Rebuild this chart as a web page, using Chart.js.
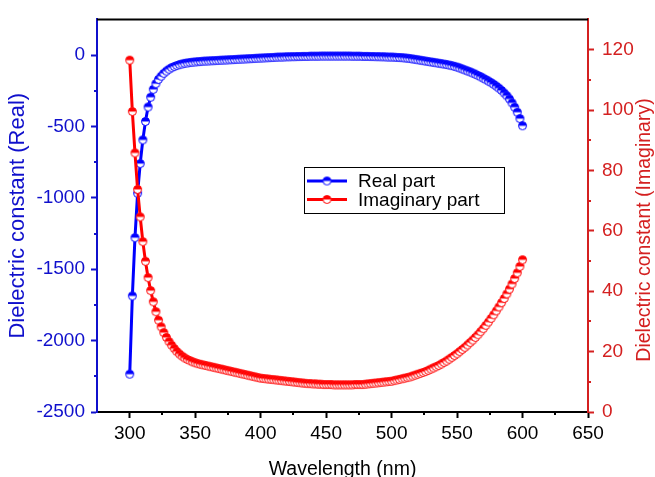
<!DOCTYPE html>
<html>
<head>
<meta charset="utf-8">
<script src="https://cdn.jsdelivr.net/npm/chart.js@4.4.0/dist/chart.umd.min.js"></script>
<style>
  html, body { margin: 0; padding: 0; background: #fff; }
  #chart { display: block; }
</style>
</head>
<body>
<canvas id="chart" width="655" height="477"></canvas>
<script>
// wavelength in nm
const wavelengths = [
  300, 302, 304, 306, 308, 310, 312, 314, 316, 318,
  320, 322, 324, 326, 328, 330, 332, 334, 336, 338,
  340, 342, 344, 346, 348, 350, 352, 354, 356, 358,
  360, 362, 364, 366, 368, 370, 372, 374, 376, 378,
  380, 382, 384, 386, 388, 390, 392, 394, 396, 398,
  400, 402, 404, 406, 408, 410, 412, 414, 416, 418,
  420, 422, 424, 426, 428, 430, 432, 434, 436, 438,
  440, 442, 444, 446, 448, 450, 452, 454, 456, 458,
  460, 462, 464, 466, 468, 470, 472, 474, 476, 478,
  480, 482, 484, 486, 488, 490, 492, 494, 496, 498,
  500, 502, 504, 506, 508, 510, 512, 514, 516, 518,
  520, 522, 524, 526, 528, 530, 532, 534, 536, 538,
  540, 542, 544, 546, 548, 550, 552, 554, 556, 558,
  560, 562, 564, 566, 568, 570, 572, 574, 576, 578,
  580, 582, 584, 586, 588, 590, 592, 594, 596, 598,
  600
];

const realPart = [
  -2235, -1687, -1279, -968, -760, -594, -465, -364, -295, -240,
  -200, -170, -148, -128, -112, -99, -88, -80, -73, -67,
  -62, -58, -55, -52, -50, -48, -46, -45, -43, -42,
  -41, -40, -39, -38, -37, -36, -35, -34, -33, -32,
  -31, -30, -29, -28, -27, -26, -25, -24, -23, -22,
  -21, -20, -19, -18, -17, -16, -15, -14, -14, -13,
  -12, -12, -11, -11, -10, -10, -9, -9, -9, -8,
  -8, -8, -8, -7, -7, -7, -7, -7, -7, -7,
  -7, -7, -7, -7, -7, -8, -8, -8, -8, -9,
  -9, -9, -10, -10, -11, -11, -12, -12, -13, -14,
  -14, -15, -16, -17, -18, -20, -22, -24, -27, -30,
  -33, -36, -39, -42, -45, -48, -51, -54, -57, -60,
  -63, -66, -70, -74, -79, -84, -90, -97, -104, -111,
  -118, -126, -134, -143, -152, -162, -172, -182, -193, -205,
  -218, -232, -248, -266, -285, -308, -335, -365, -400, -445,
  -495
];

const imagPart = [
  116.5, 99.5, 85.8, 73.7, 64.6, 56.4, 49.9, 44.5, 40.2, 36.5,
  33.2, 30.4, 28.2, 26.3, 24.7, 23.3, 22.1, 21.0, 20.0, 19.2,
  18.5, 17.9, 17.4, 17.0, 16.6, 16.3, 16.0, 15.8, 15.6, 15.4,
  15.2, 15.0, 14.8, 14.6, 14.4, 14.2, 14.0, 13.8, 13.6, 13.4,
  13.2, 13.0, 12.8, 12.6, 12.4, 12.2, 12.0, 11.8, 11.6, 11.4,
  11.2, 11.1, 11.0, 10.9, 10.8, 10.7, 10.6, 10.5, 10.4, 10.3,
  10.2, 10.1, 10.0, 9.9, 9.8, 9.7, 9.6, 9.5, 9.4, 9.4,
  9.3, 9.3, 9.2, 9.2, 9.1, 9.1, 9.1, 9.1, 9.0, 9.0,
  9.0, 9.0, 9.0, 9.0, 9.0, 9.0, 9.1, 9.1, 9.1, 9.1,
  9.2, 9.3, 9.4, 9.5, 9.6, 9.7, 9.8, 9.9, 10.0, 10.1,
  10.2, 10.4, 10.6, 10.8, 11.0, 11.2, 11.4, 11.6, 11.9, 12.2,
  12.5, 12.8, 13.1, 13.4, 13.8, 14.2, 14.6, 15.0, 15.4, 15.9,
  16.4, 16.9, 17.5, 18.1, 18.7, 19.3, 20.0, 20.7, 21.4, 22.2,
  23.0, 23.8, 24.7, 25.6, 26.6, 27.6, 28.7, 29.8, 31.0, 32.2,
  33.5, 34.8, 36.2, 37.6, 39.1, 40.7, 42.4, 44.2, 46.1, 48.2,
  50.4
];

const xTicks = [300, 350, 400, 450, 500, 550, 600, 650];
const realTicks = [-2500, -2000, -1500, -1000, -500, 0];
const imagTicks = [0, 20, 40, 60, 80, 100, 120];
const seriesLabels = ['Real part', 'Imaginary part'];
const xTitle = 'Wavelength (nm)';
const realTitle = 'Dielectric constant (Real)';
const imagTitle = 'Dielectric constant (Imaginary)';

const FONT = '"Liberation Sans", Arial, Helvetica, sans-serif';
const BLUE = '#0000ff';
const RED = '#ff0000';
const BLUE_AXIS = '#1010cc';
const RED_AXIS = '#d42020';

// half filled circle, like Origin's "half up" symbol
function halfMarker(color) {
    const c = document.createElement('canvas');
    c.width = 11;
    c.height = 11;
    const g = c.getContext('2d');
    g.beginPath();
    g.arc(5.5, 5.5, 4, 0, Math.PI * 2);
    g.fillStyle = '#fff';
    g.fill();
    g.beginPath();
    g.arc(5.5, 5.5, 4, Math.PI, 0);
    g.closePath();
    g.fillStyle = color;
    g.fill();
    g.beginPath();
    g.arc(5.5, 5.5, 4, 0, Math.PI * 2);
    g.lineWidth = 1;
    g.strokeStyle = color;
    g.stroke();
    return c;
}

const plainNumber = v => String(v);

const minorSteps = { x: 25, y: 250, y1: 10 };

const minorTicks = {
    id: 'minorTicks',
    afterDraw(chart) {
        const ctx = chart.ctx;
        const area = chart.chartArea;
        ctx.save();
        ctx.lineWidth = 2;
        Object.keys(minorSteps).forEach(id => {
            const s = chart.scales[id];
            const step = minorSteps[id];
            const majors = s.ticks.map(t => t.value);
            ctx.strokeStyle = id === 'y' ? BLUE_AXIS : id === 'y1' ? RED_AXIS : '#000';
            for (let v = Math.ceil(s.min / step) * step; v < s.max; v += step) {
                if (v <= s.min || majors.includes(v)) continue;
                const p = Math.round(s.getPixelForValue(v));
                ctx.beginPath();
                if (id === 'x') {
                    ctx.moveTo(p, area.bottom);
                    ctx.lineTo(p, area.bottom + 3);
                } else if (id === 'y') {
                    ctx.moveTo(area.left, p);
                    ctx.lineTo(area.left - 3, p);
                } else {
                    ctx.moveTo(area.right, p);
                    ctx.lineTo(area.right + 3, p);
                }
                ctx.stroke();
            }
        });
        // top frame line
        ctx.strokeStyle = '#000';
        ctx.beginPath();
        ctx.moveTo(area.left, area.top);
        ctx.lineTo(area.right, area.top);
        ctx.stroke();
        // right axis title reads bottom-to-top
        ctx.translate(645, 230);
        ctx.rotate(-Math.PI / 2);
        ctx.font = `19.5px ${FONT}`;
        ctx.fillStyle = RED_AXIS;
        ctx.textAlign = 'center';
        ctx.textBaseline = 'middle';
        ctx.fillText(imagTitle, 0, 0);
        ctx.restore();
    }
};

const boxLegend = {
    id: 'boxLegend',
    afterDraw(chart) {
        const ctx = chart.ctx;
        const x0 = 304, y0 = 167, w = 200, h = 46;
        ctx.save();
        ctx.fillStyle = '#fff';
        ctx.fillRect(x0, y0, w, h);
        ctx.strokeStyle = '#000';
        ctx.lineWidth = 1;
        ctx.strokeRect(x0 + 0.5, y0 + 0.5, w, h);
        chart.data.datasets.forEach((ds, i) => {
            const y = y0 + 14 + i * 18.5;
            ctx.strokeStyle = ds.borderColor;
            ctx.lineWidth = 3;
            ctx.beginPath();
            ctx.moveTo(x0 + 3, y);
            ctx.lineTo(x0 + 43, y);
            ctx.stroke();
            const m = ds.pointStyle;
            ctx.drawImage(m, x0 + 23 - m.width / 2, y - m.height / 2);
            ctx.fillStyle = '#000';
            ctx.font = `19px ${FONT}`;
            ctx.textAlign = 'left';
            ctx.textBaseline = 'middle';
            ctx.fillText(ds.label, x0 + 54, y + 1);
        });
        ctx.restore();
    }
};

new Chart(document.getElementById('chart'), {
    type: 'line',
    data: {
        datasets: [
            {
                label: seriesLabels[0],
                data: wavelengths.map((w, i) => ({ x: w, y: realPart[i] })),
                yAxisID: 'y',
                borderColor: BLUE,
                backgroundColor: BLUE,
                borderWidth: 3,
                pointStyle: halfMarker(BLUE),
                pointRadius: 4,
                tension: 0,
                order: 2
            },
            {
                label: seriesLabels[1],
                data: wavelengths.map((w, i) => ({ x: w, y: imagPart[i] })),
                yAxisID: 'y1',
                borderColor: RED,
                backgroundColor: RED,
                borderWidth: 3,
                pointStyle: halfMarker(RED),
                pointRadius: 4,
                tension: 0,
                order: 1
            }
        ]
    },
    options: {
        responsive: false,
        animation: false,
        devicePixelRatio: 1,
        layout: { padding: { top: 14, left: 0, right: 0, bottom: 0 } },
        plugins: {
            legend: { display: false },
            tooltip: { enabled: false }
        },
        scales: {
            x: {
                type: 'linear',
                position: 'bottom',
                min: 275,
                max: 650,
                afterBuildTicks: s => { s.ticks = xTicks.map(v => ({ value: v })); },
                afterFit: s => { s.height = 65; },
                border: { color: '#000', width: 2 },
                grid: { drawOnChartArea: false, drawTicks: true, tickLength: 6, tickWidth: 2, tickColor: '#000' },
                ticks: { color: '#000', font: { family: FONT, size: 19 }, padding: 4, maxRotation: 0, autoSkip: false, callback: plainNumber },
                title: { display: true, text: xTitle, color: '#000', font: { family: FONT, size: 19.5, lineHeight: 0.72 }, padding: 0 }
            },
            y: {
                type: 'linear',
                position: 'left',
                min: -2500,
                max: 250,
                afterBuildTicks: s => { s.ticks = realTicks.map(v => ({ value: v })); },
                afterFit: s => { s.width = 97; },
                border: { color: BLUE_AXIS, width: 2 },
                grid: { drawOnChartArea: false, drawTicks: true, tickLength: 6, tickWidth: 2, tickColor: BLUE_AXIS },
                ticks: { color: BLUE_AXIS, font: { family: FONT, size: 19 }, padding: 6, callback: plainNumber },
                title: { display: true, text: realTitle, color: BLUE_AXIS, font: { family: FONT, size: 22, lineHeight: 1.2 }, padding: { top: 5, bottom: 0 } }
            },
            y1: {
                type: 'linear',
                position: 'right',
                min: 0,
                max: 130,
                afterBuildTicks: s => { s.ticks = imagTicks.map(v => ({ value: v })); },
                afterFit: s => { s.width = 67; },
                border: { color: RED_AXIS, width: 2 },
                grid: { drawOnChartArea: false, drawTicks: true, tickLength: 6, tickWidth: 2, tickColor: RED_AXIS },
                ticks: { color: RED_AXIS, font: { family: FONT, size: 19 }, padding: 8, callback: plainNumber }
            }
        }
    },
    plugins: [minorTicks, boxLegend]
});
</script>
</body>
</html>
